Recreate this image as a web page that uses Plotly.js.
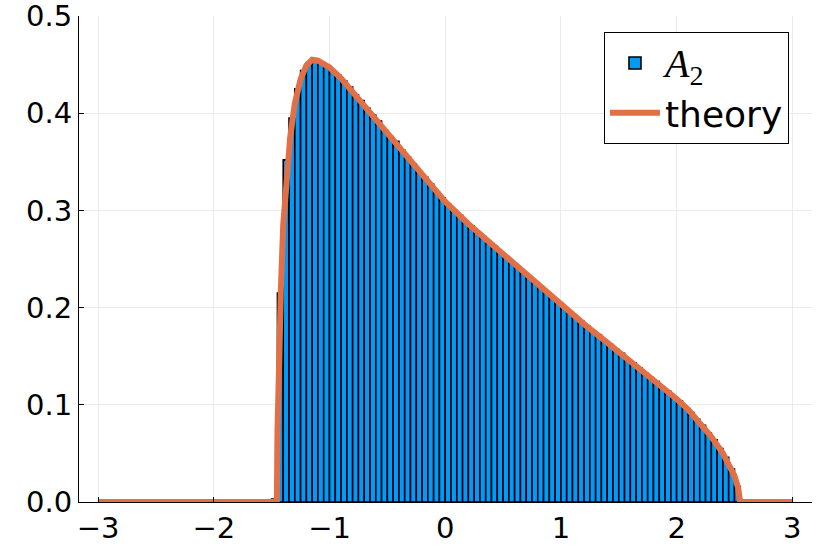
<!DOCTYPE html>
<html>
<head>
<meta charset="utf-8">
<script src="https://cdn.plot.ly/plotly-3.0.1.min.js"></script>
<style>
  html, body { margin: 0; padding: 0; background: #fff; }
</style>
</head>
<body>
<div id="histDiv" style="width:830px;height:554px;"></div>
<script>
// histogram bin centres (width 0.05) and normalised heights
var binWidth = 0.05;
var binCenters = [
  -1.475, -1.425, -1.375, -1.325, -1.275, -1.225, -1.175, -1.125, -1.075, -1.025,
  -0.975, -0.925, -0.875, -0.825, -0.775, -0.725, -0.675, -0.625, -0.575, -0.525,
  -0.475, -0.425, -0.375, -0.325, -0.275, -0.225, -0.175, -0.125, -0.075, -0.025,
   0.025,  0.075,  0.125,  0.175,  0.225,  0.275,  0.325,  0.375,  0.425,  0.475,
   0.525,  0.575,  0.625,  0.675,  0.725,  0.775,  0.825,  0.875,  0.925,  0.975,
   1.025,  1.075,  1.125,  1.175,  1.225,  1.275,  1.325,  1.375,  1.425,  1.475,
   1.525,  1.575,  1.625,  1.675,  1.725,  1.775,  1.825,  1.875,  1.925,  1.975,
   2.025,  2.075,  2.125,  2.175,  2.225,  2.275,  2.325,  2.375,  2.425,  2.475,
   2.525
];
var binHeights = [
  0.003, 0.215, 0.352, 0.395, 0.425, 0.444, 0.452, 0.455, 0.451, 0.449,
  0.444, 0.439, 0.433, 0.427, 0.419, 0.413, 0.405, 0.398, 0.392, 0.383,
  0.376, 0.371, 0.362, 0.355, 0.348, 0.340, 0.334, 0.327, 0.319, 0.313,
  0.306, 0.300, 0.295, 0.288, 0.284, 0.277, 0.273, 0.266, 0.263, 0.257,
  0.252, 0.246, 0.242, 0.236, 0.231, 0.225, 0.221, 0.215, 0.211, 0.205,
  0.200, 0.196, 0.190, 0.186, 0.181, 0.176, 0.172, 0.166, 0.162, 0.157,
  0.153, 0.147, 0.143, 0.138, 0.133, 0.128, 0.124, 0.118, 0.114, 0.108,
  0.104, 0.097, 0.092, 0.085, 0.079, 0.071, 0.064, 0.055, 0.046, 0.034,
  0.016
];

// theory density, sampled by eye along the orange curve
var theoryX = [
  -3.00, -1.46, -1.455, -1.45, -1.44, -1.43, -1.42, -1.40, -1.37, -1.34,
  -1.30, -1.25, -1.20, -1.15, -1.10, -1.05, -1.00, -0.90, -0.80, -0.70,
  -0.60, -0.50, -0.40, -0.30, -0.20, -0.10, 0.00, 0.20, 0.40, 0.60,
   0.80, 1.00, 1.20, 1.40, 1.60, 1.80, 2.00, 2.10, 2.20, 2.30,
   2.40, 2.45, 2.50, 2.53, 2.55, 3.00
];
var theoryY = [
  0.000, 0.000, 0.000, 0.070, 0.140, 0.185, 0.220, 0.285, 0.340, 0.375,
  0.410, 0.435, 0.449, 0.455, 0.454, 0.451, 0.447, 0.436, 0.422, 0.408,
  0.394, 0.380, 0.366, 0.351, 0.337, 0.323, 0.309, 0.286, 0.265, 0.244,
  0.223, 0.203, 0.183, 0.164, 0.145, 0.126, 0.106, 0.095, 0.082, 0.067,
  0.050, 0.040, 0.027, 0.015, 0.000, 0.000
];

var xTicks = [-3, -2, -1, 0, 1, 2, 3];
// last tick sits a hair under 0.5, plotly drops a label exactly on the range end
var yTicks = [0, 0.1, 0.2, 0.3, 0.4, 0.4999];
var yTickLabels = ['0.0', '0.1', '0.2', '0.3', '0.4', '0.5'];

var bars = {
  type: 'bar',
  x: binCenters,
  y: binHeights,
  width: binWidth,
  name: '<span style="font-family:\'Liberation Serif\';font-size:40px"><i>A</i><sub>2</sub></span>',
  marker: {
    color: '#009AFA',
    line: { color: '#000000', width: 1.6 }
  }
};

var theory = {
  type: 'scatter',
  mode: 'lines',
  x: theoryX,
  y: theoryY,
  name: 'theory',
  line: { color: '#E26F46', width: 6 }
};

var tickFont = { family: 'DejaVu Sans', size: 29, color: '#000' };

var layout = {
  width: 830,
  height: 554,
  margin: { l: 79, r: 18, t: 16, b: 52 },
  paper_bgcolor: '#ffffff',
  plot_bgcolor: '#ffffff',
  bargap: 0,
  showlegend: true,
  legend: {
    x: 0.9686, y: 0.967,
    xanchor: 'right', yanchor: 'top',
    bgcolor: '#ffffff',
    bordercolor: '#000000',
    borderwidth: 1,
    font: { family: 'DejaVu Sans', size: 36, color: '#000' },
    itemwidth: 50,
    tracegroupgap: 0
  },
  xaxis: {
    range: [-3.165, 3.17],
    tickvals: xTicks,
    ticks: 'inside',
    ticklen: 5,
    tickcolor: '#000',
    showline: true,
    linecolor: '#000',
    linewidth: 1,
    mirror: false,
    showgrid: true,
    gridcolor: '#ebebeb',
    gridwidth: 1,
    zeroline: false,
    automargin: false,
    tickfont: tickFont
  },
  yaxis: {
    range: [0, 0.5],
    tickmode: 'array',
    tickvals: yTicks,
    ticktext: yTickLabels,
    ticks: 'inside',
    ticklen: 5,
    tickcolor: '#000',
    showline: true,
    linecolor: '#000',
    linewidth: 1,
    mirror: false,
    showgrid: true,
    gridcolor: '#ebebeb',
    gridwidth: 1,
    zeroline: false,
    automargin: false,
    ticklabeloverflow: 'allow',
    tickfont: tickFont
  }
};

Plotly.newPlot('histDiv', [bars, theory], layout, { displayModeBar: false, staticPlot: true });
</script>
</body>
</html>
